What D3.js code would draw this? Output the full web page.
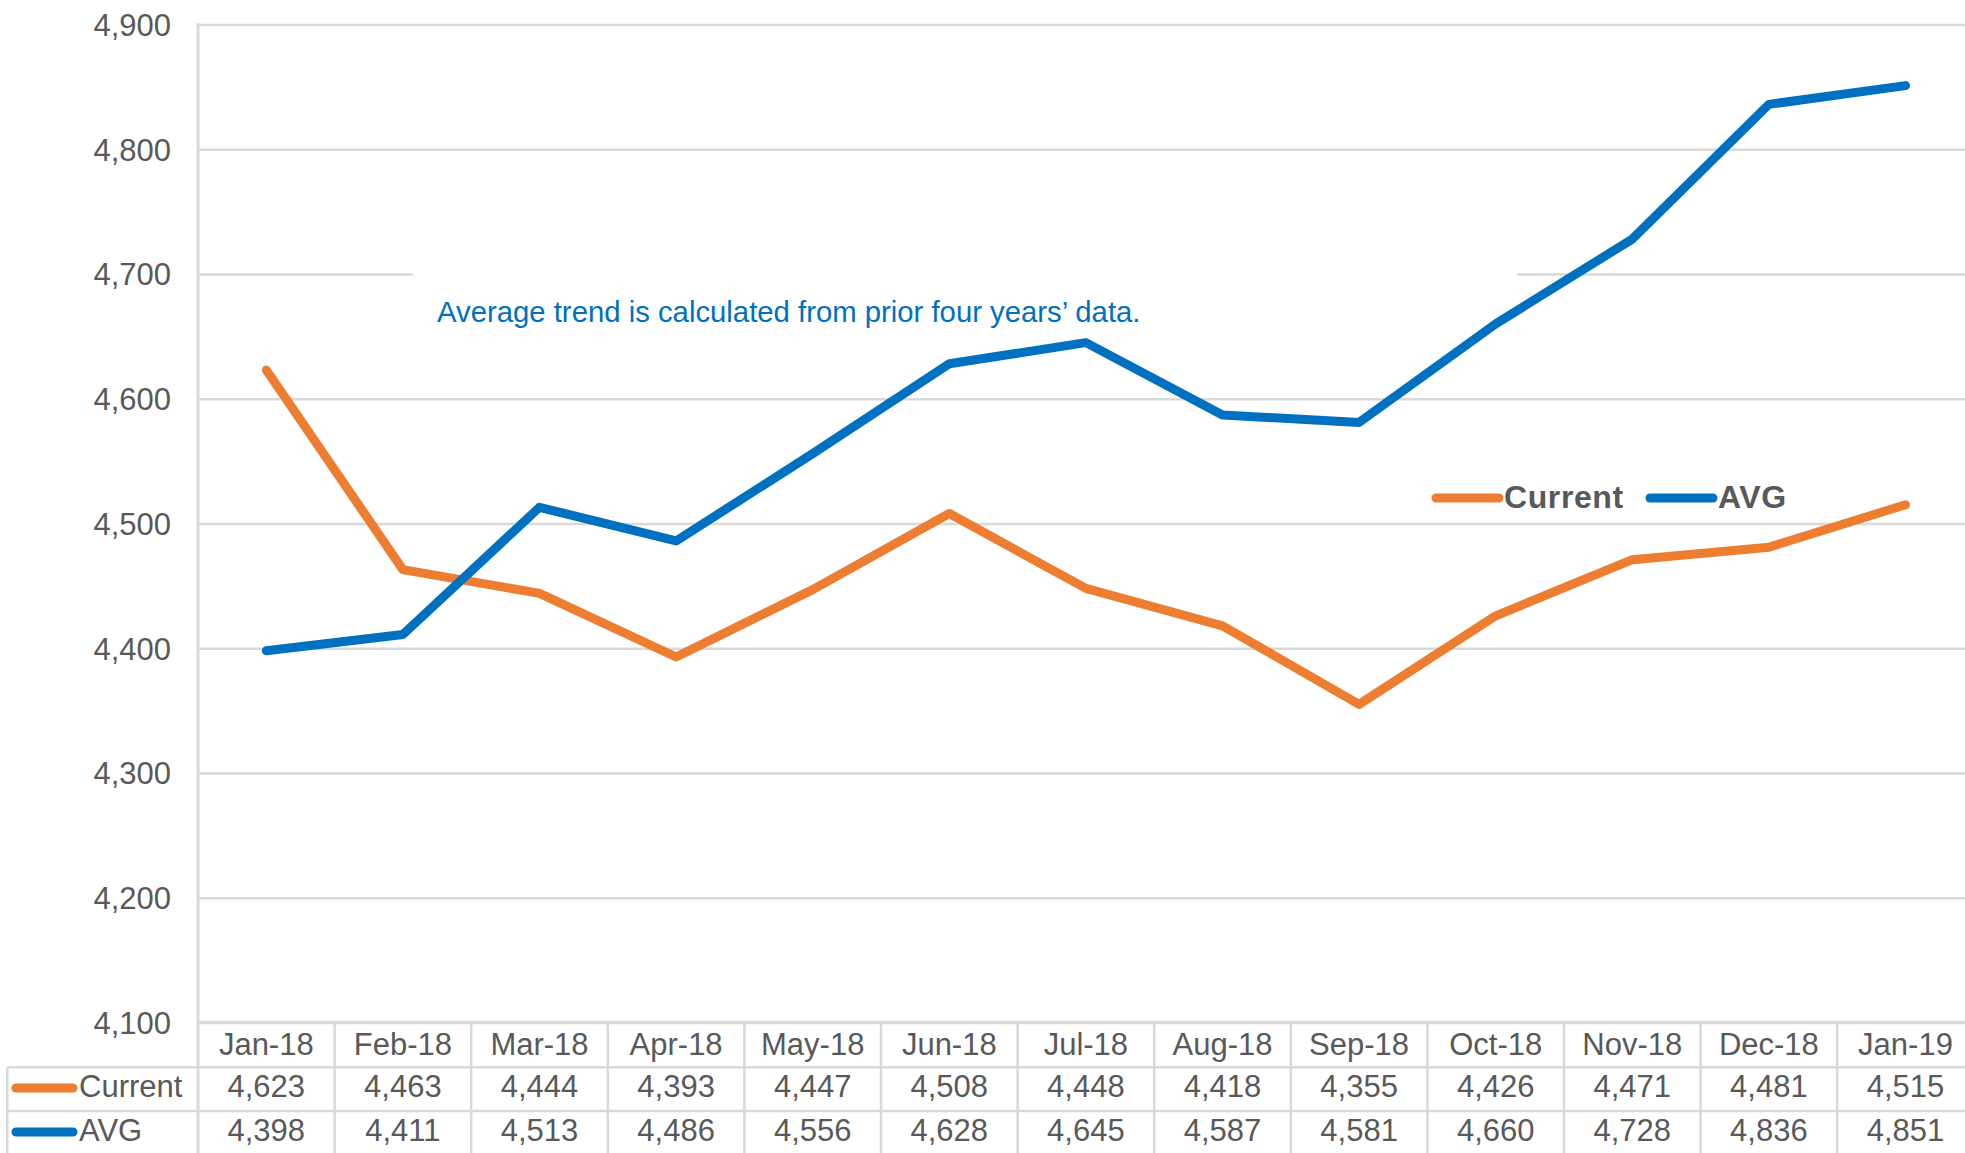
<!DOCTYPE html>
<html>
<head>
<meta charset="utf-8">
<script src="https://cdn.jsdelivr.net/npm/d3@7"></script>
<style>
  body { margin: 0; background: #fff; }
  svg { display: block; font-family: "Liberation Sans", Arial, sans-serif; }
</style>
</head>
<body>
<svg id="chart" width="1965" height="1153"></svg>
<script>
const months = ["Jan-18", "Feb-18", "Mar-18", "Apr-18", "May-18", "Jun-18", "Jul-18",
                "Aug-18", "Sep-18", "Oct-18", "Nov-18", "Dec-18", "Jan-19"];
const current = [4623, 4463, 4444, 4393, 4447, 4508, 4448, 4418, 4355, 4426, 4471, 4481, 4515];
const avg = [4398, 4411, 4513, 4486, 4556, 4628, 4645, 4587, 4581, 4660, 4728, 4836, 4851];
const yTicks = [4100, 4200, 4300, 4400, 4500, 4600, 4700, 4800, 4900];
const seriesNames = ["Current", "AVG"];
const seriesColors = ["#ed7d31", "#0070c0"];
const note = "Average trend is calculated from prior four years\u2019 data.";

const svg = d3.select("#chart");
const plotLeft = 198, plotRight = 198 + 13 * 136.6, plotTop = 24.5, plotBottom = 1022.5;
const rowLines = [1067.3, 1111];
const textColor = "#595959", gridColor = "#d9d9d9";
const fontSize = "31px";

const x = d3.scaleBand().domain(months).range([plotLeft, plotRight]);
const y = d3.scaleLinear().domain([4100, 4900]).range([plotBottom, plotTop]);
const cx = m => x(m) + x.bandwidth() / 2;

// gridlines + y labels
const yAxis = svg.append("g")
    .attr("transform", `translate(${plotLeft},0)`)
    .call(d3.axisLeft(y).tickValues(yTicks).tickFormat(d3.format(","))
        .tickSize(-(plotRight - plotLeft)).tickPadding(27));
yAxis.select(".domain").remove();
yAxis.selectAll(".tick line").attr("stroke", gridColor).attr("stroke-width", 2.5);
yAxis.selectAll(".tick text")
    .attr("fill", textColor)
    .attr("dy", "0.35em")
    .style("font-size", fontSize);

// note, with a white box that hides the 4,700 gridline behind it
svg.append("rect")
    .attr("x", 413).attr("y", 258)
    .attr("width", 1517 - 413).attr("height", 80)
    .attr("fill", "#fff");
svg.append("text")
    .attr("x", 437).attr("y", 322)
    .attr("fill", "#0070c0")
    .style("font-size", "29.3px")
    .text(note);

// table lines
const tableBottom = 1153;
svg.append("g").selectAll("line")
    .data(d3.range(1, 14))
    .enter().append("line")
    .attr("x1", i => plotLeft + i * x.bandwidth()).attr("x2", i => plotLeft + i * x.bandwidth())
    .attr("y1", plotBottom).attr("y2", tableBottom)
    .attr("stroke", gridColor).attr("stroke-width", 2.5);
svg.append("g").selectAll("line")
    .data(rowLines)
    .enter().append("line")
    .attr("x1", 7).attr("x2", plotRight)
    .attr("y1", d => d).attr("y2", d => d)
    .attr("stroke", gridColor).attr("stroke-width", 2.5);
svg.append("line")
    .attr("x1", 7.3).attr("x2", 7.3).attr("y1", rowLines[0]).attr("y2", tableBottom)
    .attr("stroke", gridColor).attr("stroke-width", 2.5);
svg.append("line")
    .attr("x1", plotLeft).attr("x2", plotRight).attr("y1", plotBottom).attr("y2", plotBottom)
    .attr("stroke", gridColor).attr("stroke-width", 3);
svg.append("line")
    .attr("x1", plotLeft).attr("x2", plotLeft).attr("y1", plotTop - 1.5).attr("y2", tableBottom)
    .attr("stroke", gridColor).attr("stroke-width", 3);

// series lines
const line = d3.line()
    .x((d, i) => cx(months[i]))
    .y(d => y(d));

[current, avg].forEach((values, k) => {
    svg.append("path")
        .datum(values)
        .attr("d", line)
        .attr("fill", "none")
        .attr("stroke", seriesColors[k])
        .attr("stroke-width", 9)
        .attr("stroke-linecap", "round")
        .attr("stroke-linejoin", "round");
});

// legend
const legendX = [1436, 1650];
seriesNames.forEach((name, k) => {
    svg.append("line")
        .attr("x1", legendX[k]).attr("x2", legendX[k] + 63)
        .attr("y1", 498).attr("y2", 498)
        .attr("stroke", seriesColors[k])
        .attr("stroke-width", 9)
        .attr("stroke-linecap", "round");
    svg.append("text")
        .attr("x", legendX[k] + 68).attr("y", 507.5)
        .attr("fill", textColor)
        .style("font-size", "32px")
        .style("letter-spacing", "0.6px")
        .style("font-weight", "bold")
        .text(name);
});

// table text
svg.append("g").selectAll("text")
    .data(months)
    .enter().append("text")
    .attr("x", d => cx(d)).attr("y", 1055)
    .attr("text-anchor", "middle")
    .attr("fill", textColor)
    .style("font-size", fontSize)
    .text(d => d);

const rowBase = [1097, 1141];
const rowSwatch = [1088, 1132];
[current, avg].forEach((values, k) => {
    svg.append("line")
        .attr("x1", 16).attr("x2", 73)
        .attr("y1", rowSwatch[k]).attr("y2", rowSwatch[k])
        .attr("stroke", seriesColors[k])
        .attr("stroke-width", 9)
        .attr("stroke-linecap", "round");
    svg.append("text")
        .attr("x", 79).attr("y", rowBase[k])
        .attr("fill", textColor)
        .style("font-size", fontSize)
        .text(seriesNames[k]);
    svg.append("g").selectAll("text")
        .data(values)
        .enter().append("text")
        .attr("x", (d, i) => cx(months[i])).attr("y", rowBase[k])
        .attr("text-anchor", "middle")
        .attr("fill", textColor)
        .style("font-size", fontSize)
        .text(d => d3.format(",")(d));
});
</script>
</body>
</html>
